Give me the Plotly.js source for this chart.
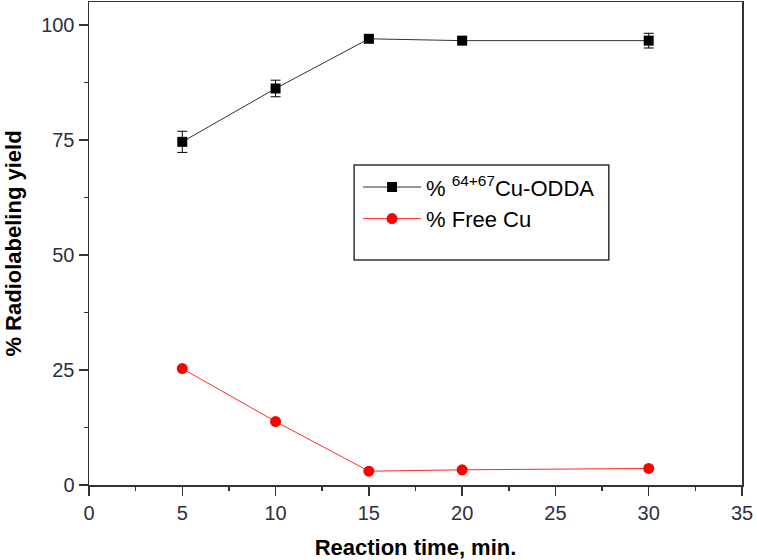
<!DOCTYPE html>
<html>
<head>
<meta charset="utf-8">
<script src="https://cdn.plot.ly/plotly-3.0.1.min.js"></script>
<style>
  html, body { margin: 0; padding: 0; background: #fff; }
  #chart { width: 757px; height: 560px; }
</style>
</head>
<body>
<div id="chart"></div>
<script>
// Reaction time (min) for each sampling point
const reactionTime = [5, 10, 15, 20, 30];

// Labelled complex yield (%) with its error
const labelledYield = [74.6, 86.2, 97.0, 96.6, 96.6];
const labelledErr = [2.3, 1.8, 0.5, 0.5, 1.6];

// Remaining free copper (%)
const freeCu = [25.3, 13.8, 3.0, 3.3, 3.6];

const seriesNames = ['% <sup>64+67</sup>Cu-ODDA', '% Free Cu'];
const xTicks = [0, 5, 10, 15, 20, 25, 30, 35];
const yTicks = [0, 25, 50, 75, 100];

const tickFont = { family: 'Arial, Liberation Sans, sans-serif', size: 20, color: '#2b3140' };
const titleFont = { family: 'Arial, Liberation Sans, sans-serif', size: 22, color: '#000' };

const traces = [
  {
    x: reactionTime,
    y: labelledYield,
    name: seriesNames[0],
    type: 'scatter',
    mode: 'lines+markers',
    line: { color: '#333', width: 1 },
    marker: { symbol: 'square', size: 10, color: '#000' },
    error_y: { type: 'data', array: labelledErr, visible: true, color: '#000', thickness: 1, width: 5 }
  },
  {
    x: reactionTime,
    y: freeCu,
    name: seriesNames[1],
    type: 'scatter',
    mode: 'lines+markers',
    line: { color: '#ff2a2a', width: 1 },
    marker: { symbol: 'circle', size: 11, color: '#ff0000' }
  }
];

const axisCommon = {
  showgrid: false,
  zeroline: false,
  showline: true,
  linecolor: '#333',
  linewidth: 1.5,
  mirror: true,
  ticks: 'outside',
  ticklen: 9,
  tickwidth: 1.5,
  tickcolor: '#333',
  tickfont: tickFont,
  minor: { ticks: 'outside', ticklen: 4, tickwidth: 1.5, tickcolor: '#333' }
};

const layout = {
  width: 757,
  height: 560,
  margin: { l: 89, r: 15, t: 2, b: 75 },
  paper_bgcolor: '#fff',
  plot_bgcolor: '#fff',
  showlegend: true,
  xaxis: Object.assign({}, axisCommon, {
    range: [0, 35],
    tickvals: xTicks,
    ticktext: xTicks.map(String),
    minor: Object.assign({}, axisCommon.minor, { dtick: 2.5, tick0: 0 }),
    title: { text: '<b>Reaction time, min.</b>', font: titleFont, standoff: 20 }
  }),
  yaxis: Object.assign({}, axisCommon, {
    range: [0, 105],
    tickvals: yTicks,
    ticktext: yTicks.map(String),
    minor: Object.assign({}, axisCommon.minor, { dtick: 12.5, tick0: 0 }),
    title: { text: '<b>% Radiolabeling yield</b>', font: titleFont, standoff: 13 }
  }),
  legend: {
    x: 0.412,
    y: 0.66,
    xanchor: 'left',
    yanchor: 'top',
    bgcolor: 'rgba(0,0,0,0)',
    borderwidth: 0,
    itemwidth: 58,
    font: { family: 'Arial, Liberation Sans, sans-serif', size: 22, color: '#000' }
  },
  shapes: [
    {
      type: 'rect', xref: 'paper', yref: 'paper',
      x0: 0.406, x1: 0.796, y0: 0.466, y1: 0.6625,
      line: { color: '#333', width: 1.5 },
      fillcolor: 'rgba(0,0,0,0)'
    }
  ]
};

Plotly.newPlot('chart', traces, layout, { displayModeBar: false, staticPlot: true });
</script>
</body>
</html>
